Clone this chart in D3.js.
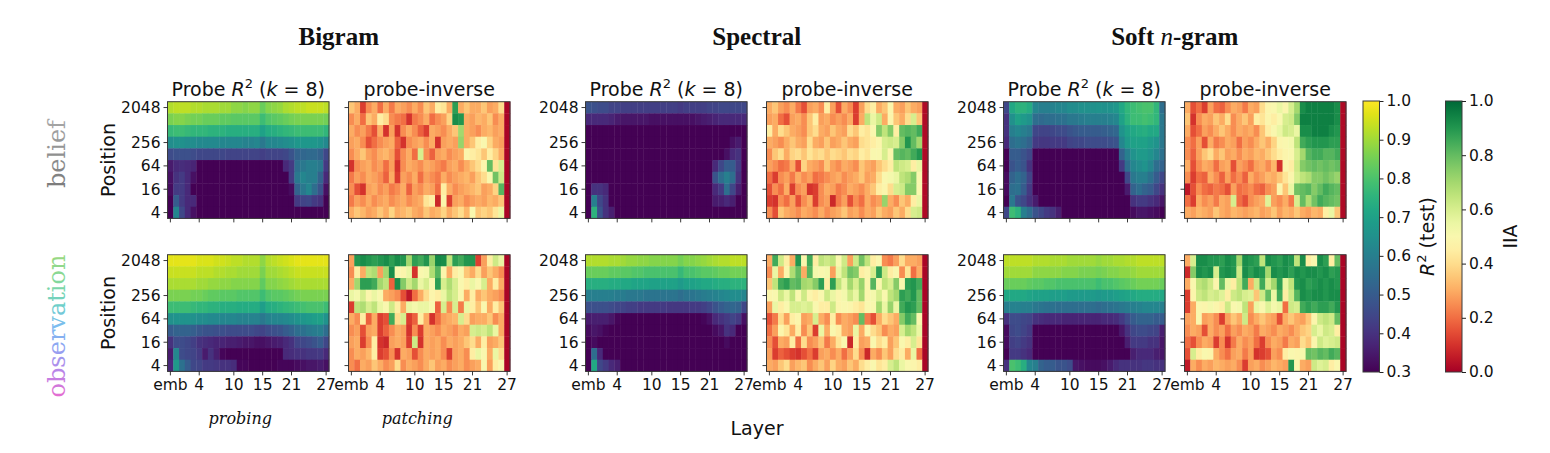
<!DOCTYPE html>
<html><head><meta charset="utf-8">
<script src="https://cdn.jsdelivr.net/npm/d3@7"></script>
<style>body{margin:0;background:#fff}svg{display:block}</style>
</head><body><svg id="c" width="1550" height="453"></svg>
<script>
// ---------------- data (values in percent) ----------------
const layers = ["emb","1","2","3","4","5","6","7","8","9","10","11","12","13","14","15","16","17","18","19","20","21","22","23","24","25","26","27"];
const positions = [2048,1024,512,256,128,64,32,16,8,4];
const xTickIdx = [0,5,11,16,21,27];
const xTickLabels = ["emb","4","10","15","21","27"];
const yTickPositions = [2048,256,64,16,4];
const groups = ["Bigram","Spectral","Soft n-gram"];
const rowsNames = ["belief","observation"];
const r2Ticks = [0.3,0.4,0.5,0.6,0.7,0.8,0.9,1.0];
const iiaTicks = [0.0,0.2,0.4,0.6,0.8,1.0];

const bigramBeliefProbe = [
[92,93,93,93,92,92,91,91,91,90,90,88,88,87,88,88,84,87,88,89,91,92,93,93,94,94,94,93],
[86,87,87,86,85,85,84,84,84,83,83,82,82,82,82,82,78,81,82,83,84,85,86,86,86,86,86,85],
[77,78,78,77,76,76,76,75,75,75,74,74,74,74,74,74,70,73,74,75,76,77,78,78,78,78,78,76],
[64,65,65,64,64,63,63,63,63,62,62,62,62,61,61,62,58,62,62,63,64,65,67,67,67,67,66,63],
[46,47,47,47,46,45,45,45,45,45,44,44,44,44,44,44,43,44,44,44,45,48,52,53,54,54,52,45],
[35,38,39,38,37,30,30,30,30,30,30,30,30,30,30,30,30,30,30,30,38,42,55,58,60,60,58,42],
[33,40,42,38,33,30,30,30,30,30,30,30,30,30,30,30,30,30,30,30,30,42,58,62,60,60,52,38],
[32,42,42,38,30,30,30,30,30,30,30,30,30,30,30,30,30,30,30,30,30,32,52,58,62,55,48,33],
[30,50,42,38,38,30,30,30,30,30,30,30,30,30,30,30,30,30,30,30,30,30,42,44,45,42,40,30],
[30,62,45,38,33,30,30,30,30,30,30,30,30,30,30,30,30,30,30,30,30,30,30,30,30,30,30,30]];
const bigramBeliefInv = [
[35,30,12,25,30,20,30,22,30,28,25,30,25,35,30,45,42,30,88,30,35,30,30,35,28,30,40,1],
[25,30,20,35,30,45,40,25,22,20,10,22,25,30,20,25,28,38,92,90,30,28,32,30,35,25,30,1],
[30,25,28,22,15,30,10,28,10,25,30,25,18,12,30,28,25,30,35,70,30,28,25,30,32,28,30,1],
[28,30,25,15,20,25,28,30,18,10,25,28,30,25,30,10,28,30,28,72,30,35,45,50,38,30,28,1],
[25,30,35,28,25,30,32,28,15,25,30,20,60,25,18,28,30,25,28,30,48,45,42,35,45,38,30,1],
[10,25,28,30,25,28,20,28,10,25,30,28,25,30,28,25,22,28,30,25,30,35,40,48,80,42,60,1],
[22,28,25,30,28,25,18,30,12,28,25,30,20,28,25,22,30,25,28,30,32,28,35,40,50,78,62,1],
[25,15,10,28,30,25,28,22,25,30,18,28,25,30,28,20,45,30,25,28,30,32,35,28,30,38,82,1],
[22,28,25,30,25,28,30,25,28,30,25,28,30,42,45,8,48,12,28,30,25,28,30,28,32,30,35,1],
[30,35,32,28,30,35,30,38,30,32,35,30,28,35,30,32,38,30,35,40,32,50,35,38,35,42,55,1]];
const bigramObsProbe = [
[97,97,97,97,97,96,96,96,95,95,94,93,93,92,92,92,88,92,93,94,95,96,97,97,97,97,97,97],
[94,94,94,94,94,93,93,93,92,92,91,91,90,90,90,90,86,90,90,91,92,93,94,94,94,94,94,94],
[91,91,91,91,91,90,90,89,89,88,88,87,87,87,87,87,83,87,87,88,89,90,91,91,91,91,91,91],
[86,86,86,86,85,85,84,83,83,82,82,82,81,81,81,81,78,81,82,82,83,84,85,86,86,86,86,86],
[78,78,78,78,77,76,76,75,75,74,74,74,73,73,73,73,69,73,74,75,76,77,78,79,80,80,80,78],
[65,66,66,66,65,64,64,63,63,62,62,62,61,61,61,61,58,61,62,62,63,64,66,67,68,69,70,66],
[50,52,52,52,51,49,48,48,47,47,46,46,46,46,46,45,44,46,47,48,50,52,55,56,58,59,60,55],
[40,46,46,45,43,40,39,38,37,37,36,36,35,34,34,33,33,34,35,36,38,40,44,45,46,48,50,45],
[35,62,46,45,44,42,35,40,36,31,30,30,30,30,30,30,30,30,30,30,38,39,40,40,41,41,42,38],
[38,68,56,50,45,44,42,42,41,40,40,39,31,31,30,30,30,30,30,31,31,31,32,33,34,34,35,33]];
const bigramObsInv = [
[28,90,92,90,88,90,92,88,92,90,70,88,85,90,72,93,92,65,88,85,90,90,12,28,45,62,55,1],
[25,45,30,65,68,28,70,92,50,48,55,10,50,52,68,82,48,30,45,50,35,30,40,28,35,30,25,1],
[30,70,88,88,85,70,65,18,92,75,62,70,55,60,50,88,60,68,60,50,45,55,50,60,30,45,30,1],
[55,52,60,48,55,50,30,28,25,15,5,20,30,40,48,45,55,65,60,50,30,45,30,35,30,28,25,1],
[12,65,68,60,65,55,50,62,45,30,55,52,55,55,50,18,60,25,60,22,55,45,35,50,30,45,35,1],
[30,25,45,18,30,12,15,85,40,60,12,18,45,30,10,20,28,30,32,60,40,28,30,30,35,25,30,1],
[25,28,15,28,30,12,18,25,30,28,10,25,12,30,28,25,30,28,25,30,28,60,62,60,65,55,30,1],
[28,30,12,25,45,10,8,28,30,28,12,62,10,30,28,30,25,30,28,30,35,40,30,45,28,30,35,1],
[25,30,28,32,45,12,15,25,10,30,28,15,25,30,28,30,25,12,28,30,25,45,55,50,30,55,40,1],
[25,20,30,28,35,30,25,28,40,25,30,28,25,30,35,28,30,25,28,30,25,28,30,50,28,45,50,1]];
const spectralBeliefProbe = [
[48,47,46,46,44,44,43,43,43,43,43,43,43,43,43,43,42,43,43,43,43,44,44,45,45,45,45,45],
[38,38,38,38,37,35,34,34,34,34,34,33,33,33,33,33,33,33,33,34,35,36,37,38,38,38,38,38],
[30,30,30,30,30,30,30,30,30,30,30,30,30,30,30,30,30,30,30,30,30,30,30,30,30,30,30,30],
[30,30,30,30,30,30,30,30,30,30,30,30,30,30,30,30,30,30,30,30,30,30,30,30,30,33,35,30],
[30,30,30,30,30,30,30,30,30,30,30,30,30,30,30,30,30,30,30,30,30,30,30,30,33,38,40,30],
[30,30,30,30,30,30,30,30,30,30,30,30,30,30,30,30,30,30,30,30,30,30,38,45,50,50,42,30],
[30,30,30,30,30,30,30,30,30,30,30,30,30,30,30,30,30,30,30,30,30,30,48,55,60,55,40,30],
[30,40,40,38,30,30,30,30,30,30,30,30,30,30,30,30,30,30,30,30,30,30,38,42,55,45,36,30],
[30,60,45,40,30,30,30,30,30,30,30,30,30,30,30,30,30,30,30,30,30,30,35,36,38,36,30,30],
[30,75,48,40,36,30,30,30,30,30,30,30,30,30,30,30,30,30,30,30,30,30,30,30,30,30,30,30]];
const spectralBeliefInv = [
[30,35,28,25,30,22,15,28,30,25,45,28,15,30,25,12,28,40,45,30,35,48,30,28,35,30,28,2],
[28,30,20,15,28,30,25,35,45,28,30,25,28,25,30,12,30,65,55,62,30,48,35,30,40,60,35,2],
[45,30,40,35,30,28,25,35,40,30,28,35,30,28,40,35,45,42,50,75,65,75,45,80,82,80,85,2],
[30,28,25,30,35,30,28,40,30,28,35,28,30,35,30,28,40,42,45,48,60,62,60,75,90,80,70,2],
[25,35,40,30,38,40,35,42,38,40,35,40,38,35,40,38,45,42,50,50,60,48,80,82,80,85,90,2],
[28,25,20,22,30,15,38,30,28,25,35,28,25,30,28,25,35,30,28,35,40,45,65,62,60,45,55,2],
[20,12,25,28,22,30,25,28,20,22,25,28,30,25,28,30,35,28,30,40,50,52,55,65,68,75,50,2],
[15,25,20,30,12,25,28,10,12,25,30,28,22,25,30,28,25,30,35,45,48,40,60,62,75,75,50,2],
[12,10,25,20,28,15,25,30,12,25,28,8,22,28,15,25,20,30,25,28,72,30,25,35,30,45,55,2],
[25,15,35,30,28,25,30,28,25,30,25,28,30,35,28,30,25,30,28,35,30,28,35,30,40,60,62,2]];
const spectralObsProbe = [
[92,92,92,92,91,91,90,89,89,88,88,87,87,87,87,87,85,87,87,88,89,90,91,92,92,93,93,93],
[84,84,84,84,83,83,82,82,81,81,80,80,80,80,80,80,77,80,80,81,82,82,83,84,84,85,85,85],
[74,74,74,74,73,73,72,72,71,71,71,70,70,70,70,70,68,70,70,71,72,72,73,74,74,75,75,75],
[60,60,60,60,60,59,59,58,58,58,57,57,57,57,57,57,55,57,57,58,59,60,61,62,63,64,64,62],
[47,47,47,47,46,45,44,43,43,42,42,42,42,42,41,41,41,41,42,42,43,45,48,50,52,53,52,45],
[35,36,36,36,34,31,30,30,30,30,30,30,30,30,30,30,30,30,30,30,31,33,38,40,42,44,42,33],
[32,34,33,31,30,30,30,30,30,30,30,30,30,30,30,30,30,30,30,30,30,30,32,34,40,38,30,30],
[30,32,30,30,30,30,30,30,30,30,30,30,30,30,30,30,30,30,30,30,30,30,30,30,32,30,30,30],
[30,55,38,30,30,30,30,30,30,30,30,30,30,30,30,30,30,30,30,30,30,30,30,30,30,30,30,30],
[30,72,45,42,38,36,30,30,30,30,30,30,30,30,30,30,30,30,30,30,30,30,30,30,30,30,30,30]];
const spectralObsInv = [
[30,85,62,45,30,90,48,85,45,65,62,65,50,62,28,62,78,65,45,50,25,22,28,40,30,30,28,1],
[25,55,30,48,68,80,30,82,52,50,52,28,55,65,78,75,45,48,60,88,62,45,50,25,42,20,30,1],
[35,65,85,88,80,82,70,68,75,88,45,88,65,55,70,60,72,48,82,50,65,60,75,50,88,90,85,1],
[48,50,62,55,65,50,62,48,45,50,62,55,48,52,62,55,70,48,52,60,50,65,70,88,85,90,80,1],
[28,55,45,50,60,60,58,60,50,45,45,62,48,50,48,45,42,50,50,70,55,72,55,85,90,88,80,1],
[15,22,40,28,45,48,28,30,60,30,25,45,25,30,28,25,80,22,15,30,40,35,30,75,85,80,50,1],
[20,28,48,42,30,45,25,35,12,55,30,50,45,30,28,55,30,48,40,35,25,30,28,60,70,65,55,1],
[25,15,30,28,45,20,40,25,28,35,22,30,42,50,8,45,28,30,50,40,45,28,35,50,45,60,42,1],
[28,12,18,15,12,10,15,20,12,28,30,25,30,20,28,40,25,8,30,25,35,28,40,45,30,55,20,1],
[30,28,35,40,28,32,35,25,30,35,28,38,30,28,35,30,40,45,50,42,45,60,65,55,50,48,45,1]];
const softBeliefProbe = [
[45,72,75,75,73,62,60,60,61,62,62,64,64,65,65,65,66,65,66,67,72,76,78,79,80,80,76,55],
[40,65,70,68,66,55,54,55,55,56,56,58,58,59,60,60,60,60,61,62,70,75,78,78,79,78,76,58],
[40,60,62,60,58,45,44,44,45,46,46,48,49,50,50,50,50,51,52,53,66,70,72,73,74,72,72,58],
[38,55,57,55,52,42,41,41,42,42,42,44,45,45,46,46,46,46,47,48,62,68,70,70,70,68,66,58],
[30,50,50,48,45,30,30,30,30,30,30,30,30,30,30,30,30,30,30,30,52,60,66,68,68,66,62,56],
[30,48,50,48,40,30,30,30,30,30,30,30,30,30,30,30,30,30,30,30,42,55,62,64,66,62,55,52],
[32,52,55,52,44,30,30,30,30,30,30,30,30,30,30,30,30,30,30,30,30,45,58,60,60,56,50,45],
[32,55,56,50,42,30,30,30,30,30,30,30,30,30,30,30,30,30,30,30,30,35,52,55,52,50,45,40],
[30,58,48,45,40,35,30,30,30,30,30,30,30,30,30,30,30,30,30,30,30,30,40,42,42,40,38,34],
[45,78,75,60,55,48,45,42,40,36,30,30,30,30,30,30,30,30,30,30,30,30,32,34,34,33,32,30]];
const softBeliefInv = [
[30,15,20,12,28,20,18,25,30,28,22,30,28,40,48,50,55,48,60,70,92,95,95,95,95,95,92,2],
[35,10,25,30,28,35,30,40,25,30,35,28,45,42,48,45,50,60,62,75,95,95,95,95,95,95,92,2],
[30,15,20,28,25,30,35,30,25,30,28,30,25,35,45,50,55,62,60,55,92,92,95,95,95,92,90,2],
[25,20,28,15,30,22,25,30,28,20,28,25,30,35,30,38,48,50,52,65,85,88,90,90,90,88,88,2],
[25,18,28,35,40,30,35,28,30,25,30,28,32,30,35,40,45,48,50,60,70,82,85,85,82,82,85,2],
[30,15,25,30,28,20,28,30,15,28,25,20,28,30,25,32,10,48,45,62,75,78,80,78,80,78,80,2],
[25,12,20,18,30,25,18,28,20,25,18,30,25,28,32,30,35,42,48,60,65,68,75,75,78,75,72,2],
[5,15,25,20,18,22,20,15,28,20,22,25,20,18,25,28,48,35,55,78,80,82,75,80,85,82,80,2],
[20,12,30,25,28,22,30,28,60,20,15,25,28,30,58,28,25,30,22,60,80,68,78,85,82,80,78,2],
[30,28,32,30,28,35,30,28,32,30,28,30,32,28,30,35,28,32,30,35,30,28,32,30,45,55,35,2]];
const softObsProbe = [
[93,93,93,93,93,92,92,92,91,91,91,90,90,90,90,90,89,90,90,91,91,92,92,93,93,93,93,93],
[90,90,90,90,90,88,88,88,88,88,87,87,87,86,86,86,85,86,87,87,88,88,89,90,90,90,90,90],
[84,84,84,84,83,82,82,81,81,80,80,80,80,80,80,80,78,80,80,81,82,83,84,85,85,85,85,84],
[72,72,72,72,71,70,70,70,69,69,69,68,68,68,68,68,67,68,68,69,70,71,72,73,73,73,73,72],
[60,61,61,60,60,58,57,56,56,55,55,55,55,55,55,55,54,55,56,57,58,59,60,61,62,62,62,60],
[40,46,46,45,44,40,39,38,38,38,37,37,37,37,37,37,37,38,38,39,42,46,50,52,52,52,50,50],
[32,45,46,44,42,30,30,30,30,30,30,30,30,30,30,30,30,30,30,30,34,40,45,46,46,45,44,36],
[32,43,44,42,40,30,30,30,30,30,30,30,30,30,30,30,30,30,30,30,30,36,42,42,42,40,40,34],
[30,42,42,40,38,30,30,30,30,30,30,30,30,30,30,30,30,30,30,30,30,30,36,38,38,38,36,34],
[40,80,78,74,62,60,52,50,50,48,48,46,34,33,32,32,32,33,35,38,40,40,40,40,41,41,40,40]];
const softObsInv = [
[30,60,92,92,90,90,88,92,90,70,92,90,88,65,92,90,88,92,90,65,92,45,50,92,88,45,80,1],
[8,75,92,90,92,60,90,92,90,62,92,88,92,90,70,92,90,92,88,92,90,92,92,90,92,88,90,1],
[30,50,65,68,62,48,80,55,45,65,85,30,62,85,60,70,88,55,65,90,92,88,90,92,90,92,90,1],
[12,48,62,65,60,62,58,45,62,65,60,58,35,62,80,55,85,45,62,82,92,90,92,92,90,92,92,1],
[12,30,50,48,52,48,45,62,50,52,65,28,55,50,58,52,55,20,62,60,85,88,85,88,88,85,90,1],
[28,30,50,28,30,25,12,28,35,30,62,25,30,35,30,28,15,30,35,30,28,35,48,62,65,62,80,1],
[25,30,28,15,30,25,28,20,28,25,30,28,22,30,28,25,30,28,25,30,35,38,60,55,62,60,45,1],
[20,15,25,30,28,12,25,10,22,30,25,28,20,12,25,30,28,22,30,28,40,35,48,62,58,60,62,1],
[15,60,45,50,48,30,25,20,28,30,22,28,10,12,15,28,25,45,50,48,52,80,78,82,80,85,82,1],
[5,30,25,30,28,32,30,28,30,25,12,28,30,25,28,32,30,28,90,48,30,28,62,58,60,45,50,1]];

// panels: [group][row] -> [probe, inverse]
const panels = [
  [[bigramBeliefProbe,bigramBeliefInv],[bigramObsProbe,bigramObsInv]],
  [[spectralBeliefProbe,spectralBeliefInv],[spectralObsProbe,spectralObsInv]],
  [[softBeliefProbe,softBeliefInv],[softObsProbe,softObsInv]]
];

// ---------------- drawing ----------------
const svg = d3.select("#c");
const FONT = "'DejaVu Sans', sans-serif";
const W = 161.5, H = 116.7;
const groupX0 = [167.5, 585.5, 1003.5];
const pairDX = 181;
const rowY0 = [101.7, 254.7];
const viridis = d3.scaleSequential(d3.interpolateViridis).domain([0.3,1]).clamp(true);
const rdylgn = d3.scaleSequential(d3.interpolateRdYlGn).domain([0,1]).clamp(true);

const defs = svg.append("defs");
// text gradients (along the text direction, before rotation)
const gObs = defs.append("linearGradient").attr("id","gObs").attr("x1","0").attr("y1","0").attr("x2","1").attr("y2","0");
[["0","#e66ccf"],["0.18","#b985e8"],["0.35","#8fa4f2"],["0.5","#7cbcf0"],["0.65","#6fd0c8"],["0.82","#84d89a"],["1","#9ad880"]]
  .forEach(([o,c]) => gObs.append("stop").attr("offset",o).attr("stop-color",c));
const gBel = defs.append("linearGradient").attr("id","gBel").attr("x1","0").attr("y1","0").attr("x2","1").attr("y2","0");
gBel.append("stop").attr("offset","0").attr("stop-color","#7a7a7a");
gBel.append("stop").attr("offset","1").attr("stop-color","#a8a8a8");

function drawMap(data, x0, y0, isProbe, showX, showY) {
  const g = svg.append("g");
  const xs = d3.scaleBand().domain(d3.range(layers.length)).range([x0, x0+W]);
  const ys = d3.scaleBand().domain(positions).range([y0, y0+H]);
  const color = isProbe ? viridis : rdylgn;
  data.forEach((row, ri) => {
    g.selectAll(null).data(row).enter().append("rect")
      .attr("x", (d,i)=>xs(i)).attr("y", ys(positions[ri]))
      .attr("width", xs.bandwidth()+0.4).attr("height", ys.bandwidth()+0.4)
      .attr("fill", d => color(d/100));
  });
  g.append("rect").attr("x",x0).attr("y",y0).attr("width",W).attr("height",H)
    .attr("fill","none").attr("stroke","#3a3a3a").attr("stroke-width",1);
  const xg = g.append("g");
  xTickIdx.forEach((ti,k) => {
    const x = xs(ti) + xs.bandwidth()/2;
    xg.append("line").attr("x1",x).attr("x2",x).attr("y1",y0+H).attr("y2",y0+H+4).attr("stroke","#222").attr("stroke-width",0.9);
    if (showX) xg.append("text").attr("x",x).attr("y",y0+H+19).attr("text-anchor","middle")
      .attr("font-family",FONT).attr("font-size",15.5).attr("fill","#111").text(xTickLabels[k]);
  });
  const yg = g.append("g");
  yTickPositions.forEach(p => {
    const y = ys(p) + ys.bandwidth()/2;
    yg.append("line").attr("x1",x0-4).attr("x2",x0).attr("y1",y).attr("y2",y).attr("stroke","#222").attr("stroke-width",0.9);
    if (showY) yg.append("text").attr("x",x0-7).attr("y",y+5.5).attr("text-anchor","end")
      .attr("font-family",FONT).attr("font-size",15.5).attr("fill","#111").text(p);
  });
}

groups.forEach((gname, gi) => {
  rowsNames.forEach((rname, ri) => {
    const [probe, inv] = panels[gi][ri];
    drawMap(probe, groupX0[gi], rowY0[ri], true, ri===1, true);
    drawMap(inv, groupX0[gi]+pairDX, rowY0[ri], false, ri===1, false);
  });
  const cx = groupX0[gi] + (pairDX + W)/2;
  const t = svg.append("text").attr("x",cx).attr("y",45).attr("text-anchor","middle")
    .attr("font-family","'Liberation Serif', serif").attr("font-weight","bold").attr("font-size",25).attr("fill","#111");
  if (gname === "Soft n-gram") {
    t.append("tspan").text("Soft ");
    t.append("tspan").attr("font-style","italic").attr("font-weight","normal").text("n");
    t.append("tspan").text("-gram");
  } else t.text(gname);
  const st = svg.append("text").attr("x",groupX0[gi]+W/2).attr("y",96).attr("text-anchor","middle")
    .attr("font-family",FONT).attr("font-size",19).attr("fill","#111");
  st.append("tspan").text("Probe ");
  st.append("tspan").attr("font-style","italic").text("R");
  st.append("tspan").attr("font-size",13).attr("dy",-8).text("2");
  st.append("tspan").attr("dy",8).text(" (");
  st.append("tspan").attr("font-style","italic").text("k");
  st.append("tspan").text(" = 8)");
  svg.append("text").attr("x",groupX0[gi]+pairDX+W/2).attr("y",96).attr("text-anchor","middle")
    .attr("font-family",FONT).attr("font-size",19).attr("fill","#111").text("probe-inverse");
});

rowY0.forEach(y0 => {
  svg.append("text").attr("transform",`translate(115,${y0+H/2}) rotate(-90)`).attr("text-anchor","middle")
    .attr("font-family",FONT).attr("font-size",19).attr("fill","#111").text("Position");
});
svg.append("text").attr("transform",`translate(65,154) rotate(-90)`).attr("text-anchor","middle")
  .attr("font-family","'DejaVu Serif', serif").attr("font-size",24).attr("fill","url(#gBel)").text("belief");
svg.append("text").attr("transform",`translate(65,326) rotate(-90)`).attr("text-anchor","middle")
  .attr("font-family","'DejaVu Serif', serif").attr("font-size",24).attr("fill","url(#gObs)").text("observation");

svg.append("text").attr("x",groupX0[0]+W/2-8).attr("y",424).attr("text-anchor","middle")
  .attr("font-family","'DejaVu Serif', serif").attr("font-style","italic").attr("font-size",16).attr("fill","#111").text("probing");
svg.append("text").attr("x",groupX0[0]+pairDX+W/2-12).attr("y",424).attr("text-anchor","middle")
  .attr("font-family","'DejaVu Serif', serif").attr("font-style","italic").attr("font-size",16).attr("fill","#111").text("patching");
svg.append("text").attr("x",757).attr("y",435).attr("text-anchor","middle")
  .attr("font-family",FONT).attr("font-size",19).attr("fill","#111").text("Layer");

function colorbar(x0, interp, domain, ticks, label, labelX, id) {
  const y0 = 101, y1 = 372, w = 16.5;
  const grad = defs.append("linearGradient").attr("id",id).attr("x1","0").attr("y1","1").attr("x2","0").attr("y2","0");
  d3.range(0,1.0001,0.05).forEach(t => grad.append("stop").attr("offset",t).attr("stop-color",interp(t)));
  svg.append("rect").attr("x",x0).attr("y",y0).attr("width",w).attr("height",y1-y0).attr("fill",`url(#${id})`)
    .attr("stroke","#3a3a3a").attr("stroke-width",1);
  const s = d3.scaleLinear().domain(domain).range([y1,y0]);
  const ax = svg.append("g").attr("transform",`translate(${x0+w},0)`)
    .call(d3.axisRight(s).tickValues(ticks).tickFormat(d3.format(".1f")).tickSize(4).tickPadding(3));
  ax.select(".domain").remove();
  ax.selectAll("text").attr("font-family",FONT).attr("font-size",15.5).attr("fill","#111");
  ax.selectAll("line").attr("stroke","#222");
  svg.append("text").attr("transform",`translate(${labelX},${(y0+y1)/2}) rotate(-90)`).attr("text-anchor","middle")
    .attr("font-family",FONT).attr("font-size",19).attr("fill","#111").html(label);
}
colorbar(1363, d3.interpolateViridis, [0.3,1.0], r2Ticks,
  '<tspan font-style="italic">R</tspan><tspan font-size="13" dy="-8">2</tspan><tspan dy="8"> (test)</tspan>', 1434, "cbV");
colorbar(1445.5, d3.interpolateRdYlGn, [0,1], iiaTicks, "IIA", 1517, "cbR");
</script></body></html>
